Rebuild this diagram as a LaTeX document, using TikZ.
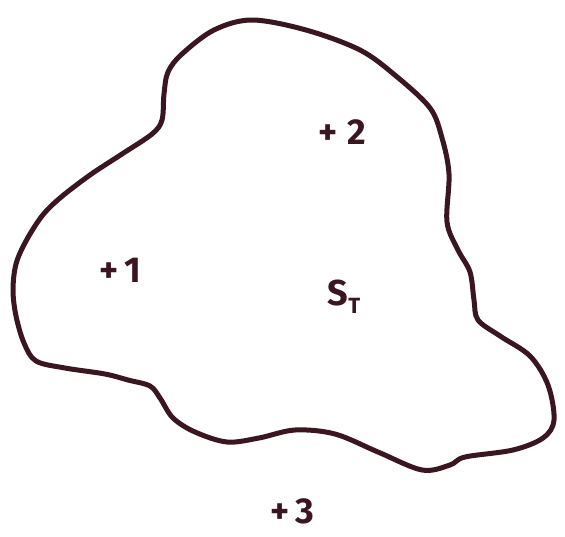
\documentclass[tikz,border=0pt]{standalone}
\usepackage{fontspec}
\setsansfont{Fira Sans}
\usepackage{xcolor}
\usepackage{tikz}
\usetikzlibrary{positioning}
\definecolor{ink}{RGB}{58,22,32}

\begin{document}
\begin{tikzpicture}[x=1pt, y=-1pt,
    blob/.style={draw=ink, line width=5pt, line join=round},
    lbl/.style={text=ink, font=\sffamily\bfseries\fontsize{36}{40}\selectfont, inner sep=0pt}]
\useasboundingbox (0,0) rectangle (565,536);
% closed hand-drawn outline of the region
\draw[blob] plot[smooth cycle, tension=0.55] coordinates {
    (252,20) (306,30) (360,50) (396,76) (430,108) (442,138) (449,174)
    (447,222) (458,250) (470,272) (474,300) (478,320) (500,336) (530,356)
    (548,385) (554,420) (543,438) (513,450) (465,457) (450,465) (422,470)
    (378,452) (335,434) (295,430) (259,438) (227,442) (195,432) (173,418)
    (160,398) (150,386) (128,380) (105,374) (65,368) (36,361) (24,343)
    (16,316) (13,290) (16,264) (26,241) (42,216) (60,198) (90,175)
    (122,154) (152,134) (162,120) (164,94) (168,72) (182,54) (214,30)};
\node[lbl] (p1) at (120,270) {+\,1};
\node[lbl] (p2) at (342,132) {+\;2};
\node[lbl] (st) at (344,297) {S\raisebox{-0.4ex}{\fontsize{22}{24}\selectfont T}};
\node[lbl] (p3) at (292,511) {+\,3};
\end{tikzpicture}
\end{document}
